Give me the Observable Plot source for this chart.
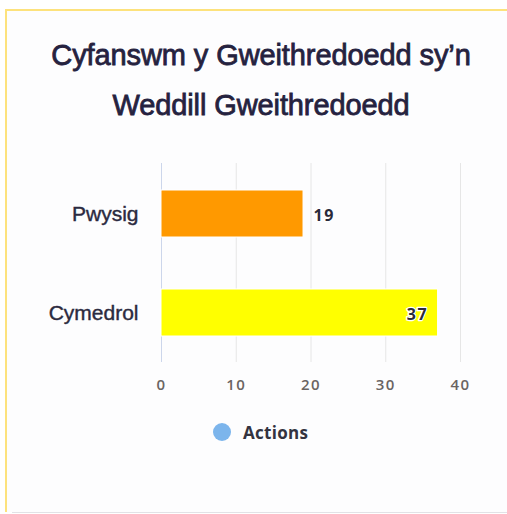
<!DOCTYPE html>
<html>
<head>
<meta charset="utf-8">
<script src="https://cdn.jsdelivr.net/npm/d3@7"></script>
<script src="https://cdn.jsdelivr.net/npm/@observablehq/plot@0.6"></script>
<style>
  html, body { margin: 0; padding: 0; background: #ffffff; overflow: hidden; }
  #wrap { position: relative; width: 507px; height: 514px; overflow: hidden; background: #ffffff; }
  #card { position: absolute; left: 5px; top: 9px; width: 510px; height: 503px;
          border-top: 2px solid #fde27c; border-left: 2px solid #fde27c; border-right: none; background: #fdfdfe; box-sizing: border-box; }
  #bottomline { position: absolute; left: 12px; top: 512px; width: 495px; height: 1px; background: #e2e2e6; }
  #chart { position: absolute; left: 0; top: 0; }
  .title { position: absolute; left: 0; width: 522px; text-align: center; font-family: "Liberation Sans", Arial, sans-serif;
           font-size: 29px; line-height: 50px; color: #25223f; letter-spacing: -0.1px; -webkit-text-stroke: 0.8px #25223f; }
  #legend { position: absolute; left: 213px; top: 422px; height: 20px; display: flex; align-items: center;
            font-family: "Open Sans", sans-serif; font-weight: bold; font-size: 17px; color: #333340; letter-spacing: 0.3px; }
  #legend .dot { width: 18px; height: 18px; border-radius: 50%; background: #7cb5ec; margin-right: 12px; }
  g[aria-label="x-axis tick label"] text { letter-spacing: 1.5px; }
  g[aria-label="y-axis tick label"] text { stroke: #2b2a40; stroke-width: 0.4px; }
  g[aria-label="text"] text { letter-spacing: 1.5px; }
</style>
</head>
<body>
<div id="wrap">
  <div id="card"></div>
  <div id="bottomline"></div>
  <div id="chart"></div>
  <div class="title" style="top:30px">Cyfanswm y Gweithredoedd sy’n</div>
  <div class="title" style="top:80px">Weddill Gweithredoedd</div>
  <div id="legend"><div class="dot"></div><span id="legendLabel"></span></div>
</div>
<script>
const categories = ["Pwysig", "Cymedrol"];
const values = [19, 37];
const barColors = ["#ff9900", "#ffff00"];
const xTicks = [0, 10, 20, 30, 40];
const seriesName = "Actions";

const data = categories.map((c, i) => ({category: c, value: values[i], color: barColors[i]}));
document.getElementById("legendLabel").textContent = seriesName;

const xDomain = [0, 40];
const roomThreshold = 35; // labels beyond this don't fit outside

const chart = Plot.plot({
  width: 507,
  height: 400,
  marginLeft: 161,
  marginRight: 47,
  marginTop: 163,
  marginBottom: 38,
  style: {background: "transparent", overflow: "visible"},
  x: {domain: xDomain, ticks: xTicks},
  y: {domain: categories, paddingInner: 0.527, paddingOuter: 0.263},
  color: {type: "identity"},
  marks: [
    Plot.gridX(xTicks.filter(t => t > 0), {stroke: "#e6e6e6", strokeOpacity: 1, strokeWidth: 1}),
    Plot.ruleX([0], {stroke: "#ccd6eb", strokeWidth: 1}),
    Plot.barX(data, {x: "value", y: "category", fill: "color", stroke: "#ffffff", strokeWidth: 1}),
    Plot.text(data.filter(d => d.value <= roomThreshold), {
      x: "value", y: "category", text: d => String(d.value), textAnchor: "start", dx: 10, dy: 2,
      fontFamily: "Open Sans", fontWeight: "bold", fontSize: 16, fill: "#2a2a3a",
      stroke: "#ffffff", strokeWidth: 2.5, paintOrder: "stroke"
    }),
    Plot.text(data.filter(d => d.value > roomThreshold), {
      x: "value", y: "category", text: d => String(d.value), textAnchor: "end", dx: -10, dy: 2,
      fontFamily: "Open Sans", fontWeight: "bold", fontSize: 16, fill: "#2a2a3a",
      stroke: "#ffffff", strokeWidth: 2.5, paintOrder: "stroke"
    }),
    Plot.axisX({ticks: xTicks, tickSize: 0, tickPadding: 17, fontFamily: "Open Sans", fontWeight: 600, fontSize: 15, fill: "#6a6462", label: null}),
    Plot.axisY({tickSize: 0, tickPadding: 23, fontFamily: "Liberation Sans", fontSize: 21, fill: "#2b2a40", label: null})
  ]
});
document.getElementById("chart").appendChild(chart);
</script>
</body>
</html>
